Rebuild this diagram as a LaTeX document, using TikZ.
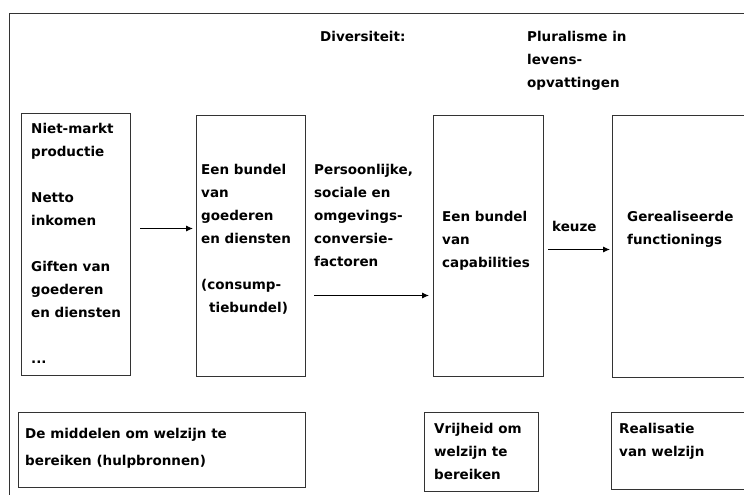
\documentclass[tikz,border=0pt]{standalone}
\usepackage{fontspec}
\setmainfont{DejaVu Sans}
\usetikzlibrary{arrows.meta}

\begin{document}
\begin{tikzpicture}[x=1pt, y=-1pt,
        box/.style={draw=black!80, line width=1pt, anchor=north west, inner sep=0pt},
        lbl/.style={anchor=north west, inner sep=0pt, align=left,
            font=\bfseries\fontsize{13.5}{23}\selectfont},
        arr/.style={-{Latex[length=7pt, width=6pt]}, line width=0.9pt}]
        \useasboundingbox (0, 0) rectangle (744, 495);
        \clip (0, 0) rectangle (744, 495);

        % frame and boxes
        \node[box, minimum width=760pt, minimum height=500pt] (frame) at (9, 13) {};
        \node[box, minimum width=109pt, minimum height=262pt] (middelen) at (21, 113) {};
        \node[box, minimum width=109pt, minimum height=261pt] (goederen) at (196, 115) {};
        \node[box, minimum width=110pt, minimum height=261pt] (capab) at (433, 115) {};
        \node[box, minimum width=150pt, minimum height=262pt] (functie) at (612, 115) {};
        \node[box, minimum width=287pt, minimum height=75pt] (hulp) at (18, 412) {};
        \node[box, minimum width=114pt, minimum height=79pt] (vrijheid) at (424, 412) {};
        \node[box, minimum width=150pt, minimum height=77pt] (realisatie) at (611, 412) {};

        % texts (first baseline = top + 16.1)
        \node[lbl] (divers) at (320, 25) {\strut Diversiteit:};
        \node[lbl] (plural) at (527, 25) {\strut Pluralisme in\\levens-\\opvattingen};
        \node[lbl] (bronnen) at (31, 117)
            {\strut Niet-markt\\productie\\[23pt]Netto\\inkomen\\[23pt]Giften van\\goederen\\en diensten\\[23pt]...};
        \node[lbl] (bundel) at (201, 158)
            {\strut Een bundel\\van\\goederen\\en diensten\\[23pt](consump-\\\hspace{8pt}tiebundel)};
        \node[lbl] (factoren) at (314, 158)
            {\strut Persoonlijke,\\sociale en\\omgevings-\\conversie-\\factoren};
        \node[lbl] (capbundel) at (442, 205) {\strut Een bundel\\van\\capabilities};
        \node[lbl] (keuze) at (552, 215) {\strut keuze};
        \node[lbl] (functionings) at (627, 205) {\strut Gerealiseerde\\functionings};
        \node[lbl] (welzijn) at (25, 422)
            {\strut De middelen om welzijn te\\[4pt]bereiken (hulpbronnen)};
        \node[lbl] (vrij) at (434, 417) {\strut Vrijheid om\\welzijn te\\bereiken};
        \node[lbl] (real) at (619, 417) {\strut Realisatie\\van welzijn};

        % arrows
        \coordinate (a1) at ([yshift=16pt]middelen.east);
        \coordinate (a2) at ([yshift=-49.5pt]goederen.east);
        \coordinate (a3) at ([yshift=-3.5pt]capab.east);
        \draw[arr, shorten <=9pt, shorten >=3pt] (a1) -- (a1 -| goederen.west);
        \draw[arr, shorten <=8pt, shorten >=4pt] (a2) -- (a2 -| capab.west);
        \draw[arr, shorten <=4pt, shorten >=2pt] (a3) -- (a3 -| functie.west);
\end{tikzpicture}
\end{document}
